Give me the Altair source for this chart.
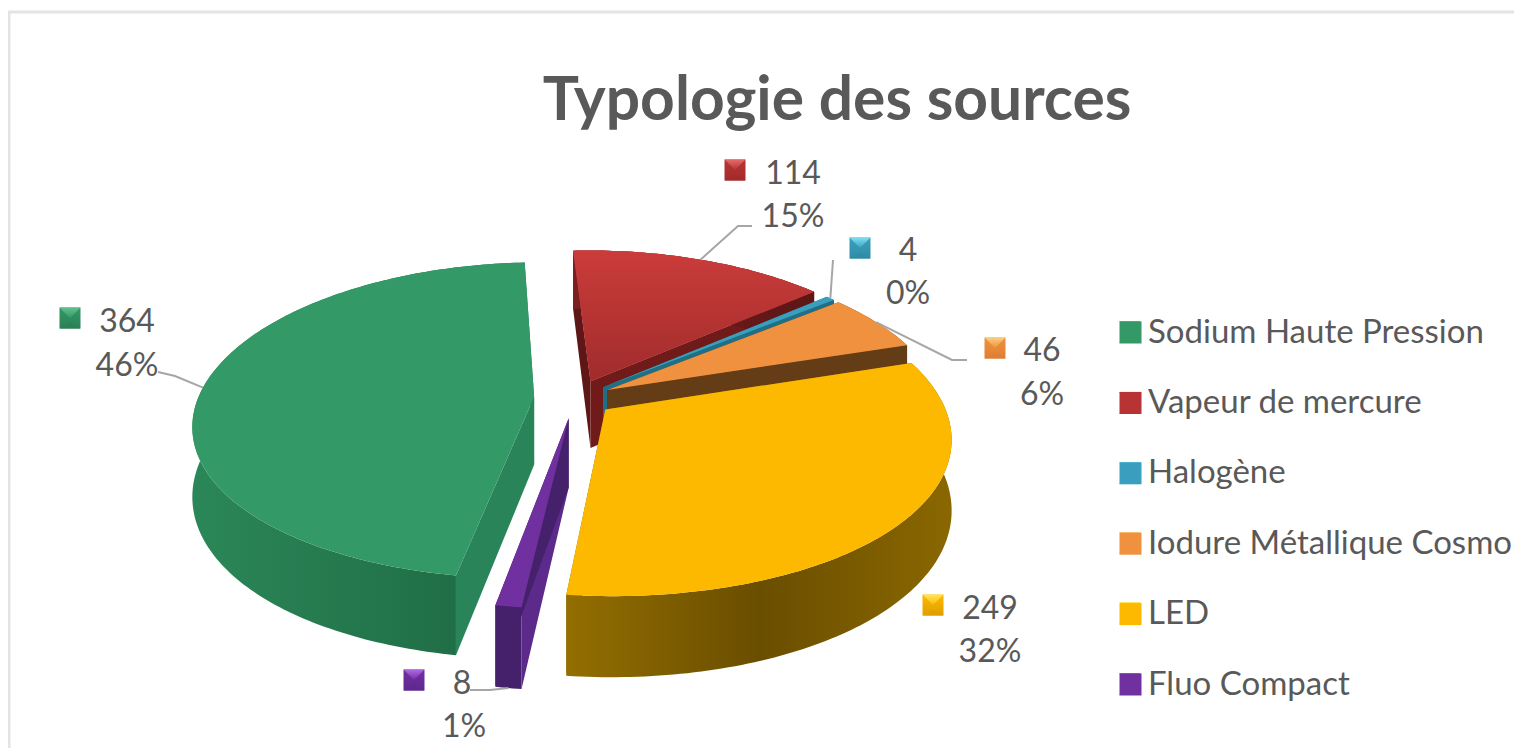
import math
import altair as alt
import pandas as pd

# ---- data
categories = ["Sodium Haute Pression", "Vapeur de mercure", "Halogène",
              "Iodure Métallique Cosmo", "LED", "Fluo Compact"]
values = [364, 114, 4, 46, 249, 8]
percents = ["46%", "15%", "0%", "6%", "32%", "1%"]

# ---- pie styling
explode = [0.122, 0.12, 0.11, 0.11, 0.115, 0.13]
top_col = ["#339966", "#B83333", "#3A9FBE", "#F0913F", "#FDB900", "#7030A0"]
face_col = ["#2A8459", "#5E1616", "#1F6F85", "#643C16", "#5F4600", "#5B2A8A"]
face2_col = ["#2A8459", "#701A1A", "#1F6F85", "#643C16", "#8A6700", "#45206B"]
wall_stops = [["#2B8758", "#24774C", "#1E6842"], ["#7A2020", "#6A1A1A", "#5E1616"],
              ["#1F6F85", "#1F6F85", "#1F6F85"], ["#643C16", "#643C16", "#643C16"],
              ["#936E00", "#6A4E00", "#8A6700"], ["#45206B", "#45206B", "#45206B"]]
light_col = ["#62C08E", "#E46C68", "#80E0F2", "#F9D080", "#FFE760", "#B468E4"]
dark_col = ["#2B8055", "#A22C2C", "#2F8CA8", "#DF7F34", "#E0A000", "#5F2890"]
START, CX, CY, AX, BY, KX, K, H = 190.0, 575.0, 398.0, 336.0, 155.0, 0.17, 0.15, 68.0
GREY = "#595959"

# label layout: number centre, percent centre, marker centre
num_xy = [(127, 322), (793, 174), (908, 251), (1042, 351), (990, 609), (462, 684)]
pct_xy = [(127, 366), (793, 217), (908, 294), (1042, 395), (990, 652), (464, 727)]
mark_xy = [(70, 318), (735, 170), (860, 248), (995, 348), (933, 605), (414, 680)]
legend_rows = [332, 403, 473, 543, 613, 684]
LEG_X = 1130
# leader lines: extra vertices after the rim point (z = 1 starts at the bottom of the wall)
leaders = {0: ([(175, 376), (158, 372)], 0), 1: ([(738, 226), (752, 226)], 0),
           2: ([(833, 260)], 0), 3: ([(952, 360), (967, 360)], 0),
           5: ([(490, 690), (470, 690)], 1)}


def proj(X, Y, z=0.0):
    wx = 1.0 / (1.0 - KX * Y)
    w = 1.0 / (1.0 - K * Y)
    return [CX + AX * X * wx, CY + BY * Y * w + z * H * w]


def feat(ring, cat=None):
    return {"type": "Feature", "properties": {"cat": cat},
            "geometry": {"type": "Polygon", "coordinates": [ring + [ring[0]]]}}


total = sum(values)
slices = []
a = START
for i, v in enumerate(values):
    span = v / total * 360.0
    mid = math.radians(a + span / 2)
    ox, oy = explode[i] * math.sin(mid), -explode[i] * math.cos(mid)
    n = max(2, int(span) + 1)
    angs = [math.radians(a + span * t / (n - 1)) for t in range(n)]
    rim = [(ox + math.sin(t), oy - math.cos(t)) for t in angs]
    slices.append({"o": (ox, oy), "rim": rim, "mid": (ox + math.sin(mid), oy - math.cos(mid))})
    a += span

PROJ = dict(type="identity", scale=1, translate=[-8, -8])
color_scale = alt.Scale(domain=categories, range=top_col)


def shape(features, **mark):
    return alt.Chart(alt.Data(values=features)).mark_geoshape(**mark).project(**PROJ)


def grad(stops, vertical=False):
    n = len(stops) - 1
    return alt.Gradient(gradient="linear", x1=0, y1=0, x2=0 if vertical else 1, y2=1 if vertical else 0,
                        stops=[alt.GradientStop(offset=j / n, color=c) for j, c in enumerate(stops)])


layers = []

# page frame
frame = {"type": "Feature", "properties": {}, "geometry": {"type": "LineString",
         "coordinates": [[9, 760], [9, 12], [1530, 12]]}}
layers.append(shape([frame], filled=False, stroke="#E4E4E4", strokeWidth=3))

# slices, painted from the back to the front
for i in [1, 2, 3, 0, 4, 5]:
    s = slices[i]
    ox, oy = s["o"]
    rim = s["rim"]
    first, last = rim[0], rim[-1]
    f1 = [proj(ox, oy), proj(*first), proj(*first, 1), proj(ox, oy, 1)]
    f2 = [proj(ox, oy), proj(*last), proj(*last, 1), proj(ox, oy, 1)]
    layers.append(shape([feat(f1)], fill=face_col[i] if i != 4 else face2_col[i], stroke=None))
    layers.append(shape([feat(f2)], fill=face2_col[i], stroke=None))
    wall = [proj(*p) for p in rim] + [proj(*p, 1) for p in reversed(rim)]
    layers.append(shape([feat(wall)], fill=grad(wall_stops[i]), stroke=None))
    top = [proj(ox, oy)] + [proj(*p) for p in rim]
    layers.append(
        shape([feat(top, categories[i])], stroke=None).encode(
            color=alt.Color(
                "properties.cat:N", scale=color_scale, sort=categories,
                legend=alt.Legend(
                    title=None, orient="none", legendX=1106, legendY=308,
                    symbolType="square", symbolSize=484, symbolStrokeWidth=0,
                    labelFont="Lato", labelFontSize=33, labelColor=GREY, labelOffset=1,
                    rowPadding=36.4, labelLimit=400,
                ),
            )
        )
    )
    if i == 1:
        layers.append(shape([feat(top)], fill=grad(["#CB3C3A", "#A02C2C"], True), stroke=None))

# leader lines
for i, (pts, z) in leaders.items():
    start = proj(*slices[i]["mid"], z)
    line = {"type": "Feature", "properties": {}, "geometry": {"type": "LineString",
            "coordinates": [start] + [list(p) for p in pts]}}
    layers.append(shape([line], filled=False, stroke="#A6A6A6", strokeWidth=2))


# bevelled markers (data labels and legend)
def bevel(cx, cy, r, i, base=True):
    x0, x1, y0, y1 = cx - r, cx + r, cy - r, cy + r
    if base:
        layers.append(shape([feat([[x0, y0], [x1, y0], [x1, y1], [x0, y1]])],
                            fill=grad([top_col[i], dark_col[i]], True), stroke=None))
    layers.append(shape([feat([[x0, y0], [x1, y0], [cx, cy]])],
                        fill=grad([light_col[i], top_col[i]], True), stroke=None))
    layers.append(shape([feat([[x0, y1], [x1, y1], [cx, cy + r * 0.45]])], fill=dark_col[i], stroke=None))


for i, (mx, my) in enumerate(mark_xy):
    bevel(mx, my, 10.5, i)
for i, ry in enumerate(legend_rows):
    bevel(LEG_X, ry, 11, i, base=False)

# data labels
rows = []
for i in range(len(values)):
    rows.append({"t": str(values[i]), "x": num_xy[i][0] - 8, "y": num_xy[i][1] - 8})
    rows.append({"t": percents[i], "x": pct_xy[i][0] - 8, "y": pct_xy[i][1] - 8})
labels = alt.Chart(pd.DataFrame(rows)).mark_text(
    font="Lato", fontSize=32, color=GREY, baseline="middle", align="center"
).encode(x=alt.X("x:Q", scale=None, axis=None), y=alt.Y("y:Q", scale=None, axis=None), text="t:N")
layers.append(labels)

chart = alt.layer(*layers).properties(
    width=1506, height=740, padding=0,
    autosize=alt.AutoSizeParams(type="none"),
    title=alt.TitleParams("Typologie des sources", font="Lato", fontSize=60.5, fontWeight="bold",
                          color=GREY, anchor="middle", dx=76, dy=176, baseline="alphabetic"),
).resolve_scale(color="shared").configure_view(stroke=None)

chart.save("out.html", embed_options={"renderer": "svg", "actions": False})
